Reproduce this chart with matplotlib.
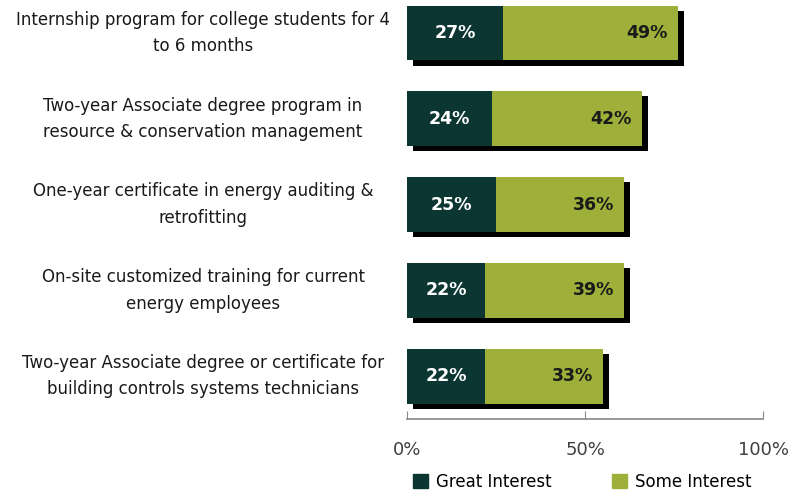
import matplotlib.pyplot as plt
from matplotlib.patches import Patch

plt.rcParams['font.family'] = ['DejaVu Sans']

# survey items, top to bottom
programs = [
    'Internship program for college students for 4\nto 6 months',
    'Two-year Associate degree program in\nresource & conservation management',
    'One-year certificate in energy auditing &\nretrofitting',
    'On-site customized training for current\nenergy employees',
    'Two-year Associate degree or certificate for\nbuilding controls systems technicians',
]
great = [27, 24, 25, 22, 22]
some = [49, 42, 36, 39, 33]

dark = '#0b3631'
olive = '#9fb03a'

fig = plt.figure(figsize=(8.05, 4.92), dpi=100)
ax = fig.add_axes([407 / 805, 1 - 419 / 492, 356 / 805, 419 / 492])

ys = list(range(len(programs)))
h = 0.64

# drop shadow behind each bar
for y, g, s in zip(ys, great, some):
    ax.barh(y + 0.06, g + s, left=1.7, height=h, color='black', zorder=1)

ax.barh(ys, great, height=h, color=dark, zorder=2)
ax.barh(ys, some, left=great, height=h, color=olive, zorder=2)

for y, g, s in zip(ys, great, some):
    ax.text(g / 2, y, f'{g}%', ha='center', va='center', color='white',
            fontsize=12.5, fontweight='bold', zorder=3)
    ax.text(g + s - 2.8, y, f'{s}%', ha='right', va='center', color='#1a1a1a',
            fontsize=12.5, fontweight='bold', zorder=3)

# category labels centred in the left margin
trans = ax.get_yaxis_transform()
for y, name in zip(ys, programs):
    ax.text(-0.573, y, name, transform=trans, ha='center', va='center',
            fontsize=12, color='#1a1a1a', linespacing=1.6)

ax.set_xlim(0, 100)
ax.set_ylim(4.5, -0.385)
ax.set_yticks([])

ax.set_xticks([0, 50, 100])
ax.set_xticklabels(['0%', '50%', '100%'], fontsize=13, color='#404040')
ax.tick_params(axis='x', direction='in', length=6, color='#888888', pad=16)

for side in ['top', 'right', 'left']:
    ax.spines[side].set_visible(False)
ax.spines['bottom'].set_color('#888888')
ax.spines['bottom'].set_linewidth(1.2)

handles = [Patch(color=dark), Patch(color=olive)]
fig.legend(handles, ['Great Interest', 'Some Interest'], loc='center',
           bbox_to_anchor=(582 / 805, 1 - 482 / 492), ncol=2, frameon=False,
           fontsize=12, handlelength=0.9, handleheight=0.9, handletextpad=0.5,
           columnspacing=3.6)

fig.savefig('out.png', dpi=100)
